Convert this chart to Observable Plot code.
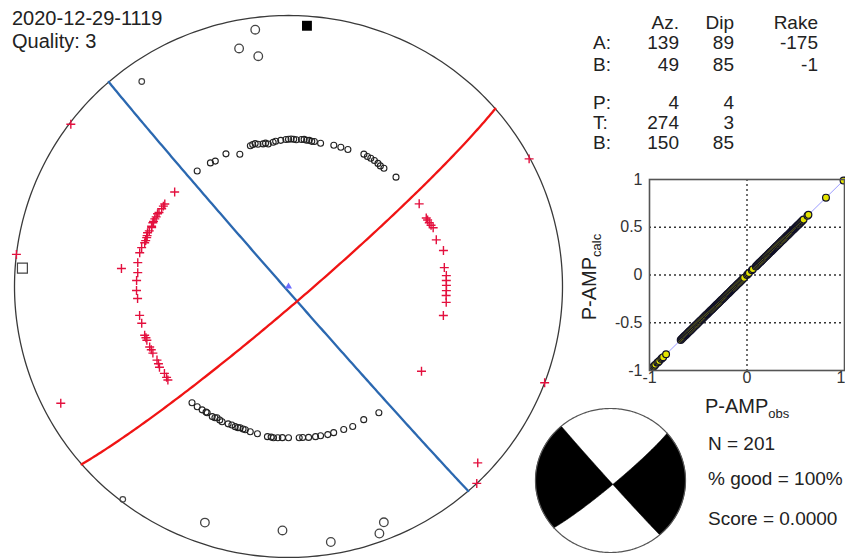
<!DOCTYPE html>
<html><head><meta charset="utf-8">
<script src="https://cdn.jsdelivr.net/npm/d3@7"></script>
<script src="https://cdn.jsdelivr.net/npm/@observablehq/plot@0.6"></script>
<style>
body{margin:0;background:#fff;}
#wrap{position:relative;width:845px;height:558px;overflow:hidden;background:#fff;}
</style></head><body><div id="wrap"></div>
<script>
// ---------------- data ----------------
const eventId = "2020-12-29-1119";
const quality = 3;
const tableHeaders = ["Az.", "Dip", "Rake"];
const planeLabels = ["A:", "B:"];
const planeStrike = [139, 49];
const planeDip = [89, 85];
const planeRake = [-175, -1];
const axisLabels = ["P:", "T:", "B:"];
const axisTrend = [4, 274, 150];
const axisPlunge = [4, 3, 85];
const nObs = 201;
const pctGood = 100;
const score = 0;

// compressional first motions (+): azimuth, take-off angle
const upAz = [310,304,303,301.8,300,299.3,298,297.1,296,295.4,294,293.5,292,291.1,290,289.2,288,287.1,285,282.9,279.1,275.3,276.2,272.3,268.5,265.4,258.9,255.8,251.1,250,249,246.2,245,243.6,240.5,239,237.7,234.7,233,231.9,
  57.4,63.3,64.2,65.4,66.5,67.7,72.3,76.8,83,86,87.8,89.6,91.5,93.3,95.8,100.7,
  307,61.8,276.8,242.6,122.8,110.8,133.3,136.6];
const upToa = [45.1,45.3,45.3,45.3,45.4,45.6,45.5,45.6,45.6,45.6,45.5,45.3,45.6,45.9,45.7,45.6,45.6,45.7,46.2,46.4,46.4,46.0,51.4,46.2,46.2,46.0,46.1,46.0,46.2,46.1,46.1,46.1,46.0,46.0,45.9,46.1,46.4,46.2,46.4,46.6,
  47.2,46.9,47.0,47.1,47.3,47.6,47.2,48.5,47.8,48.2,48.1,48.1,48.1,48.1,48.3,48.0,
  89.4,89.6,90,82.9,48.2,90,84.3,90];

// dilatational first motions (o)
const downAz = [322,328,330,335,340,345,346,347,348,350,351,352,354,355,357,359,0,1,2,3,5,6,7,8,9,10,12.5,17.6,20.4,23.2,29.4,31,32.4,34,35.7,37,38.6,44.2,
  219.4,216.9,214.7,213,212.5,210.1,209,208.3,207,205.9,203.5,202,200.6,199.5,198.7,197.5,196.6,194.6,191.8,187.9,186.5,185.6,184,182.3,180,176,174.7,172.5,169.9,168,165.3,163,159.1,155.6,150.8,144.7];
const downToa = [45.0,44.7,44.4,44.9,43.1,44.7,44.9,45.0,44.6,44.4,44.5,44.1,44.5,44.7,44.9,45.1,45.2,45.3,45.2,45.1,45.3,45.4,45.2,45.3,45.1,45.2,45.0,45.5,45.6,45.8,46.7,46.6,46.7,46.7,46.6,46.4,46.5,46.9,
  46.2,46.2,46.1,46.0,46.0,46.2,46.1,45.8,46.0,46.2,46.0,45.9,46.0,46.0,45.8,45.9,45.9,46.1,46.2,46.6,46.6,46.7,46.6,46.5,46.5,46.6,46.6,46.8,46.9,46.9,47.1,47.0,47.1,47.3,46.9,47.6];

// weaker dilatational readings near the rim
const rimAz = [352.7,348.4,352.6,324.7,217.6,199.3,181.4,170.7,160,158.2];
const rimToa = [85,78.7,74.6,81.9,89,81.5,79.1,85,86.6,83];
const rimClass = ["L","L","L","S","S","L","L","L","L","L"];

// amplitude fit (observed vs calculated)
const ampObs = [-0.96,-0.95,-0.94,-0.92,-0.91,-0.90,-0.88,-0.87,-0.86,-0.83,
  -0.68,-0.67,-0.66,-0.65,-0.64,-0.63,-0.62,-0.61,-0.60,-0.59,-0.58,-0.57,-0.56,-0.55,-0.54,-0.53,-0.52,-0.51,-0.50,-0.49,-0.48,-0.47,-0.46,-0.45,-0.44,-0.43,-0.42,-0.41,-0.40,-0.39,-0.38,-0.37,-0.36,-0.35,-0.34,-0.33,-0.32,-0.31,-0.30,-0.29,-0.28,-0.27,-0.26,-0.25,-0.24,-0.23,-0.22,-0.21,-0.20,-0.19,-0.18,-0.17,-0.16,-0.15,-0.14,-0.13,-0.12,-0.11,-0.10,-0.09,-0.08,-0.07,-0.06,-0.05,-0.04,-0.03,
  0.00,0.01,0.02,0.05,0.06,
  0.09,0.10,0.11,0.12,0.13,0.14,0.15,0.16,0.17,0.18,0.19,0.20,0.21,0.22,0.23,0.24,0.25,0.26,0.27,0.28,0.29,0.30,0.31,0.32,0.33,0.34,0.35,0.36,0.37,0.38,0.39,0.40,0.41,0.42,0.43,0.44,0.45,0.46,0.47,0.48,0.49,0.50,0.51,0.52,0.53,0.54,0.55,0.56,0.57,0.58,
  0.62,0.63,0.81,0.99];
const ampCalc = [-0.96,-0.95,-0.94,-0.92,-0.91,-0.90,-0.88,-0.87,-0.86,-0.83,
  -0.68,-0.67,-0.66,-0.65,-0.64,-0.63,-0.62,-0.61,-0.60,-0.59,-0.58,-0.57,-0.56,-0.55,-0.54,-0.53,-0.52,-0.51,-0.50,-0.49,-0.48,-0.47,-0.46,-0.45,-0.44,-0.43,-0.42,-0.41,-0.40,-0.39,-0.38,-0.37,-0.36,-0.35,-0.34,-0.33,-0.32,-0.31,-0.30,-0.29,-0.28,-0.27,-0.26,-0.25,-0.24,-0.23,-0.22,-0.21,-0.20,-0.19,-0.18,-0.17,-0.16,-0.15,-0.14,-0.13,-0.12,-0.11,-0.10,-0.09,-0.08,-0.07,-0.06,-0.05,-0.04,-0.03,
  0.00,0.01,0.02,0.05,0.06,
  0.09,0.10,0.11,0.12,0.13,0.14,0.15,0.16,0.17,0.18,0.19,0.20,0.21,0.22,0.23,0.24,0.25,0.26,0.27,0.28,0.29,0.30,0.31,0.32,0.33,0.34,0.35,0.36,0.37,0.38,0.39,0.40,0.41,0.42,0.43,0.44,0.45,0.46,0.47,0.48,0.49,0.50,0.51,0.52,0.53,0.54,0.55,0.56,0.57,0.58,
  0.62,0.63,0.81,0.99];
const ampDomain = [-1, 1];
const ampTicksY = [-1, -0.5, 0, 0.5, 1];
const ampTicksX = [-1, 0, 1];

// ---------------- geometry helpers ----------------
const rad = Math.PI / 180;
function proj(trend, plunge) { // lower hemisphere equal-area
  const r = Math.SQRT2 * Math.sin((90 - plunge) / 2 * rad);
  return [r * Math.sin(trend * rad), r * Math.cos(trend * rad)];
}
const projToa = (az, toa) => proj(az, 90 - toa);
function vecToXY(v) {
  let [e, n, dn] = v;
  if (dn < 0) { e = -e; n = -n; dn = -dn; }
  return proj(Math.atan2(e, n) / rad, Math.asin(Math.min(1, dn)) / rad);
}
function basis(strike, dip) {
  const dd = (strike + 90) * rad;
  return {
    s: [Math.sin(strike * rad), Math.cos(strike * rad), 0],
    d: [Math.cos(dip * rad) * Math.sin(dd), Math.cos(dip * rad) * Math.cos(dd), Math.sin(dip * rad)]
  };
}
const cross = (a, b) => [a[1]*b[2]-a[2]*b[1], a[2]*b[0]-a[0]*b[2], a[0]*b[1]-a[1]*b[0]];
const dot = (a, b) => a[0]*b[0]+a[1]*b[1]+a[2]*b[2];
function planePt(b, t) {
  const c = Math.cos(t * rad), s = Math.sin(t * rad);
  return vecToXY([0,1,2].map(i => c * b.s[i] + s * b.d[i]));
}
function span(a, b) { const out = []; const st = a <= b ? 1 : -1; for (let t = a; st > 0 ? t < b : t > b; t += st) out.push(t); out.push(b); return out; }
const bA = basis(planeStrike[0], planeDip[0]);
const bB = basis(planeStrike[1], planeDip[1]);
const gcA = span(0, 180).map(t => planePt(bA, t));
const gcB = span(0, 180).map(t => planePt(bB, t));
const circlePts = span(0, 360).map(a => proj(a, 0));

// null axis and its position along each plane
let Bax = cross(cross(bA.s, bA.d), cross(bB.s, bB.d));
if (Bax[2] < 0) Bax = Bax.map(v => -v);
const tA = Math.atan2(dot(Bax, bA.d), dot(Bax, bA.s)) / rad;
const tB = Math.atan2(dot(Bax, bB.d), dot(Bax, bB.s)) / rad;

// quadrants (east: strikeB..strikeA, west: strikeB+180..strikeA+180)
function quadrant(k) {
  const a0 = planeStrike[1] + 180 * k, a1 = planeStrike[0] + 180 * k;
  const endT = 180 * k;
  return [
    ...span(a0, a1).map(a => proj(a, 0)),
    ...span(endT, tA).map(t => planePt(bA, t)),
    ...span(tB, endT).map(t => planePt(bB, t))
  ];
}
const inArc = (az, a0, a1) => { const x = ((az - a0) % 360 + 360) % 360; return x <= ((a1 - a0) % 360 + 360) % 360; };
const quadData = [];
[0, 1].forEach(k => {
  const a0 = planeStrike[1] + 180 * k, a1 = planeStrike[0] + 180 * k;
  const hasT = inArc(axisTrend[1], a0, a1) || inArc(axisTrend[1] + 180, a0, a1);
  if (hasT) quadrant(k).forEach(p => quadData.push({q: k, x: p[0], y: p[1]}));
});

// ---------------- layout ----------------
const wrap = document.getElementById("wrap");
const FONT = "'Liberation Sans', Arial, Helvetica, sans-serif";
function place(el, left, top) {
  el.style.position = "absolute"; el.style.left = left + "px"; el.style.top = top + "px";
  el.style.maxWidth = "none"; el.style.background = "transparent";
  wrap.appendChild(el);
}
const X = d => d[0], Y = d => d[1];

// main stereonet
const upPts = upAz.map((a, i) => projToa(a, upToa[i]));
const downPts = downAz.map((a, i) => projToa(a, downToa[i]));
const rimPts = rimAz.map((a, i) => ({p: projToa(a, rimToa[i]), c: rimClass[i]}));
const Ppt = proj(axisTrend[0], axisPlunge[0]);
const Tpt = proj(axisTrend[1], axisPlunge[1]);

const main = Plot.plot({
  width: 580, height: 558, margin: 0,
  x: {domain: [-1, 1], range: [14, 562], axis: null},
  y: {domain: [-1, 1], range: [557, 15], axis: null},
  marks: [
    Plot.line(circlePts, {x: X, y: Y, stroke: "#3a3a3a", strokeWidth: 1.3}),
    Plot.line(gcA, {x: X, y: Y, stroke: "#2b68b0", strokeWidth: 2.3}),
    Plot.line(gcB, {x: X, y: Y, stroke: "#f01414", strokeWidth: 2.3}),
    Plot.dot(downPts, {x: X, y: Y, r: 3, fill: "none", stroke: "#222", strokeWidth: 1.1}),
    Plot.dot(rimPts.filter(d => d.c === "L"), {x: d => d.p[0], y: d => d.p[1], r: 4.3, fill: "none", stroke: "#444", strokeWidth: 1.3}),
    Plot.dot(rimPts.filter(d => d.c === "S"), {x: d => d.p[0], y: d => d.p[1], r: 2.8, fill: "none", stroke: "#444", strokeWidth: 1.2}),
    Plot.dot(upPts, {x: X, y: Y, symbol: "plus", r: 3, stroke: "#e3103e", strokeWidth: 1.4}),
    Plot.dot([Ppt], {x: X, y: Y, symbol: "square", r: 5.6, fill: "#000"}),
    Plot.dot([Tpt], {x: X, y: Y, symbol: "square", r: 5.6, fill: "none", stroke: "#444", strokeWidth: 1.2}),
    Plot.dot([[0, 0]], {x: X, y: Y, symbol: "triangle", r: 2.6, fill: "#6c6cff"})
  ]
});
place(main, 0, 0);

// amplitude scatter
const ampData = ampObs.map((o, i) => ({obs: o, calc: ampCalc[i]}));
const scat = Plot.plot({
  width: 285, height: 250, marginLeft: 89, marginRight: 1, marginTop: 19, marginBottom: 40,
  style: {fontFamily: FONT, fontSize: "16px", color: "#333", background: "transparent", overflow: "visible"},
  x: {domain: ampDomain, axis: null},
  y: {domain: ampDomain, ticks: ampTicksY, tickFormat: d => String(d), tickSize: 0, tickPadding: 7, label: null},
  marks: [
    Plot.ruleY(ampTicksY.filter(v => Math.abs(v) < 1), {stroke: "#333", strokeDasharray: "2,3", strokeWidth: 1.4}),
    Plot.ruleX(ampTicksX.filter(v => Math.abs(v) < 1), {stroke: "#333", strokeDasharray: "2,3", strokeWidth: 1.4}),
    Plot.line(ampDomain.map(v => [v, v]), {x: X, y: Y, stroke: "#9c9cff", strokeWidth: 1}),
    Plot.dot(ampData, {x: "obs", y: "calc", r: 3.4, fill: "#e4e400", stroke: "#101028", strokeWidth: 1.2}),
    Plot.frame({stroke: "#555", strokeWidth: 1.6}),
    Plot.text(ampTicksX.filter(v => v < ampDomain[1]), {x: d => d, text: d => String(d), frameAnchor: "bottom", dy: 12, textAnchor: "middle", fill: "#333", fontSize: 16}),
    Plot.text(ampTicksX.filter(v => v >= ampDomain[1]), {x: d => d, text: d => String(d), frameAnchor: "bottom", dy: 12, dx: 1, textAnchor: "end", fill: "#333", fontSize: 16})
  ]
});
place(scat, 560, 160);

// beach ball
const ball = Plot.plot({
  width: 180, height: 158, margin: 0,
  x: {domain: [-1, 1], range: [15, 165], axis: null},
  y: {domain: [-1, 1], range: [152, 8], axis: null},
  marks: [
    Plot.line(quadData, {x: "x", y: "y", z: "q", fill: "#000", stroke: "#000", strokeWidth: 0.6, curve: "linear-closed"}),
    Plot.line(circlePts, {x: X, y: Y, stroke: "#555", strokeWidth: 1.2})
  ]
});
place(ball, 520, 400);

// text overlay
const svg = d3.create("svg").attr("width", 845).attr("height", 558)
  .style("font-family", FONT).style("fill", "#222");
const txt = (x, y, s, size, anchor = "start") =>
  svg.append("text").attr("x", x).attr("y", y).attr("font-size", size).attr("text-anchor", anchor).text(s);

txt(12, 25, eventId, 20);
txt(12, 48, "Quality: " + quality, 20);

const colX = [679, 734, 818];
tableHeaders.forEach((h, i) => txt(colX[i], 29, h, 19, "end"));
const planeY = [49, 70.5];
planeLabels.forEach((l, i) => {
  txt(593, planeY[i], l, 19);
  txt(colX[0], planeY[i], String(planeStrike[i]), 19, "end");
  txt(colX[1], planeY[i], String(planeDip[i]), 19, "end");
  txt(colX[2], planeY[i], String(planeRake[i]), 19, "end");
});
const axisY = [109, 129, 149];
axisLabels.forEach((l, i) => {
  txt(593, axisY[i], l, 19);
  txt(colX[0], axisY[i], String(axisTrend[i]), 19, "end");
  txt(colX[1], axisY[i], String(axisPlunge[i]), 19, "end");
});

const yl = svg.append("text").attr("transform", "translate(596,277) rotate(-90)")
  .attr("text-anchor", "middle").attr("font-size", 20);
yl.append("tspan").text("P-AMP");
yl.append("tspan").attr("font-size", 13).attr("dy", 5).text("calc");

const xl = svg.append("text").attr("x", 705).attr("y", 413).attr("font-size", 20);
xl.append("tspan").text("P-AMP");
xl.append("tspan").attr("font-size", 13).attr("dy", 5).text("obs");

txt(708, 450, "N = " + nObs, 19);
txt(708, 485, "% good = " + pctGood + "%", 19);
txt(708, 525, "Score = " + score.toFixed(4), 19);

const ov = svg.node();
ov.style.pointerEvents = "none";
place(ov, 0, 0);
</script>
</body></html>
